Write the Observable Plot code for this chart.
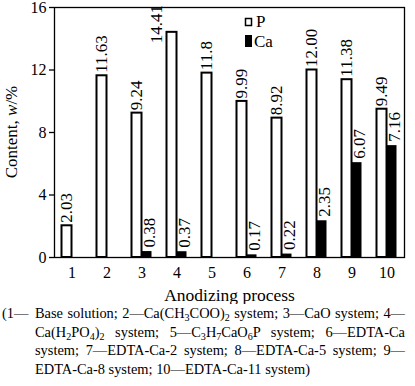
<!DOCTYPE html>
<html><head><meta charset="utf-8">
<script src="https://cdn.jsdelivr.net/npm/d3@7"></script>
<script src="https://cdn.jsdelivr.net/npm/@observablehq/plot@0.6"></script>
<style>
body{margin:0;background:#fff;font-family:"Liberation Serif","Times New Roman",serif;color:#000;}
#wrap{position:relative;width:415px;}
.cap{position:relative;font-size:14.4px;line-height:18.5px;}
.cap .ln{margin-left:35px;width:370px;text-align:justify;text-align-last:justify;}
.cap .ln.last{text-align:left;text-align-last:left;}
.cap .lead{position:absolute;left:2px;top:0;}
sub{font-size:70%;vertical-align:-0.25em;line-height:0;}
</style></head>
<body><div id="wrap"></div>
<script>
const processes = [1, 2, 3, 4, 5, 6, 7, 8, 9, 10];
const pValues = [2.03, 11.63, 9.24, 14.41, 11.8, 9.99, 8.92, 12.00, 11.38, 9.49];
const pLabels = ["2.03", "11.63", "9.24", "14.41", "11.8", "9.99", "8.92", "12.00", "11.38", "9.49"];
const caValues = [null, null, 0.38, 0.37, null, 0.17, 0.22, 2.35, 6.07, 7.16];
const caLabels = [null, null, "0.38", "0.37", null, "0.17", "0.22", "2.35", "6.07", "7.16"];
const yTicks = [0, 4, 8, 12, 16];
const seriesNames = ["P", "Ca"];

const hw = 10 / 35; // bar width in category units
const pData = processes.map((x, i) => ({x, v: pValues[i], label: pLabels[i]}));
const caData = processes.map((x, i) => ({x, v: caValues[i], label: caLabels[i]})).filter(d => d.v != null);
const fits = d => d.v < 14;   // labels that fit above their bar

const font = "Liberation Serif";
const chart = Plot.plot({
  width: 415, height: 304,
  marginLeft: 54, marginRight: 11, marginTop: 7, marginBottom: 47,
  style: {fontFamily: font, background: "white", color: "black"},
  x: {type: "linear", domain: [0.5, 10.5]},
  y: {domain: [0, 16]},
  marks: [
    Plot.rectY(pData, {x1: d => d.x - hw, x2: d => d.x, y: "v", fill: "white", stroke: "black", strokeWidth: 2}),
    Plot.rectY(caData, {x1: d => d.x, x2: d => d.x + hw, y: "v", fill: "black"}),
    Plot.text(pData.filter(fits), {x: d => d.x - hw / 2, y: "v", text: "label", rotate: -90, textAnchor: "start", lineAnchor: "middle", dy: -3, fontSize: 17}),
    Plot.text(pData.filter(d => !fits(d)), {x: d => d.x - hw / 2, y: "v", text: "label", rotate: -90, textAnchor: "start", lineAnchor: "middle", dx: -15, dy: 11, fontSize: 17}),
    Plot.text(caData, {x: d => d.x + hw / 2, y: "v", text: "label", rotate: -90, textAnchor: "start", lineAnchor: "middle", dy: -4, dx: 3, fontSize: 17}),
    Plot.frame({stroke: "black", strokeWidth: 1.3}),
    Plot.axisY({ticks: yTicks, tickSize: 5, tickPadding: 3, fontSize: 16, label: null, strokeWidth: 1.3}),
    Plot.axisX({ticks: processes, tickSize: 0, tickPadding: 9, fontSize: 16, label: null}),
    Plot.text(["Anodizing process"], {frameAnchor: "bottom", dy: 38, lineAnchor: "middle", fontSize: 17.5})
  ]
});

const svg = d3.select(chart);
// y-axis title with italic w
const yt = svg.append("text")
  .attr("transform", "translate(13,132) rotate(-90)")
  .attr("text-anchor", "middle").attr("dominant-baseline", "middle")
  .attr("font-size", 17).attr("fill", "black");
yt.append("tspan").text("Content, ");
yt.append("tspan").attr("font-style", "italic").text("w");
yt.append("tspan").text("/%");

// legend
const lg = svg.append("g").attr("font-size", 17).attr("fill", "black").attr("text-anchor", "start");
lg.append("rect").attr("x", 245.5).attr("y", 18.5).attr("width", 6).attr("height", 7)
  .attr("fill", "white").attr("stroke", "black").attr("stroke-width", 1.5);
lg.append("text").attr("x", 256).attr("y", 27).attr("text-anchor", "start").text(seriesNames[0]);
lg.append("rect").attr("x", 245).attr("y", 35).attr("width", 7).attr("height", 12).attr("fill", "black");
lg.append("text").attr("x", 254).attr("y", 47).attr("text-anchor", "start").text(seriesNames[1]);

svg.selectAll("text").attr("font-family", font).style("font-family", font);

const wrap = document.getElementById("wrap");
wrap.appendChild(chart);
const cap = document.createElement("div");
cap.className = "cap";
cap.innerHTML =
  '<span class="lead">(1—</span>' +
  '<div class="ln">Base solution; 2—Ca(CH<sub>3</sub>COO)<sub>2</sub> system; 3—CaO system; 4—</div>' +
  '<div class="ln">Ca(H<sub>2</sub>PO<sub>4</sub>)<sub>2</sub> system; 5—C<sub>3</sub>H<sub>7</sub>CaO<sub>6</sub>P system; 6—EDTA-Ca</div>' +
  '<div class="ln">system; 7—EDTA-Ca-2 system; 8—EDTA-Ca-5 system; 9—</div>' +
  '<div class="ln last">EDTA-Ca-8 system; 10—EDTA-Ca-11 system)</div>';
wrap.appendChild(cap);
</script></body></html>
